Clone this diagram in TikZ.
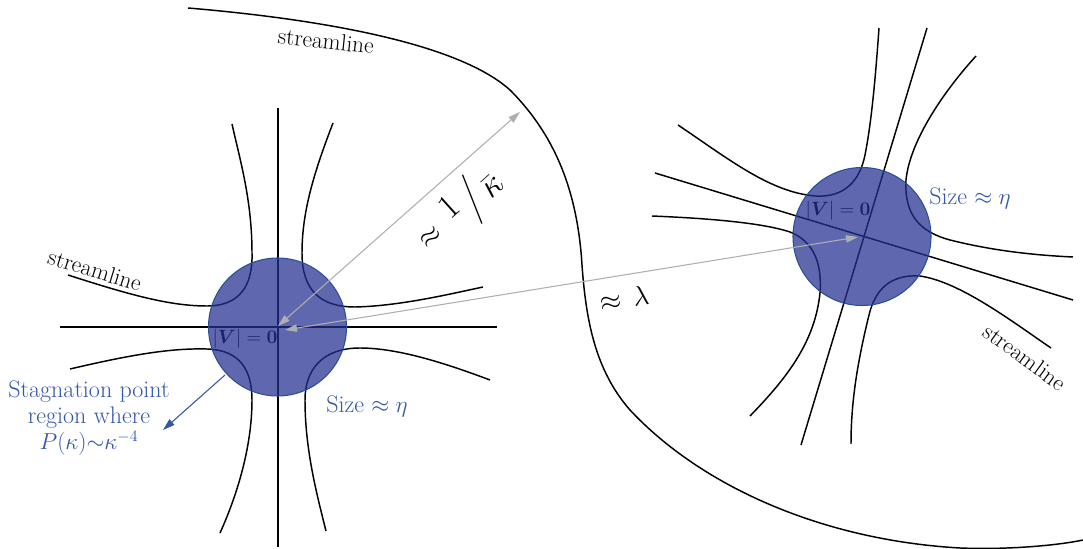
\documentclass[tikz,border=0pt]{standalone}
\usepackage{amsmath,bm,graphicx}
\usetikzlibrary{arrows.meta}
\definecolor{txtblue}{RGB}{52,86,166}
\definecolor{discfill}{RGB}{36,47,144}
\definecolor{discedge}{RGB}{40,80,150}
\definecolor{arrgray}{RGB}{175,175,175}
\tikzset{
  sline/.style={line width=1.1pt, black},
  axisline/.style={line width=1.5pt, black},
  disc/.style={circle, minimum size=103.5pt, inner sep=0pt, fill=discfill, fill opacity=0.73, draw=discedge, line width=0.8pt},
  grayarrow/.style={draw=arrgray, line width=0.8pt, {Triangle[length=9pt,width=5.5pt]}-{Triangle[length=9pt,width=5.5pt]}},
  bluearrow/.style={draw=txtblue, line width=0.8pt, -{Triangle[length=9pt,width=5.5pt]}},
  slabel/.style={font=\fontsize{17.5}{20}\selectfont, inner sep=0pt},
  bluelabel/.style={font=\fontsize{18}{19.5}\selectfont, text=txtblue, inner sep=0pt, align=center},
  zerolabel/.style={font=\fontsize{14.5}{17}\selectfont, inner sep=0pt, text=black},
}
\begin{document}
\begin{tikzpicture}[x=0.75pt, y=-0.75pt]
\useasboundingbox (0,0) rectangle (1083,549);

% big streamline
\draw[sline] (188,8) .. controls (330,20) and (460,45) .. (510,90) .. controls (560,140) and (578,200) .. (582,265) .. controls (586,320) and (595,370) .. (630,410) .. controls (700,485) and (820,540) .. (960,548) .. controls (1010,550) and (1060,545) .. (1083,540);

% left cluster
\draw[axisline] (60,327) -- (497,327);
\draw[axisline] (278,108) -- (278,547);
\draw[sline] (68,275) .. controls (130,295) and (170,306) .. (207,306) .. controls (240,306) and (253,285) .. (252,253) .. controls (252,200) and (240,160) .. (232,124);
\draw[sline] (333,123) .. controls (315,170) and (302,210) .. (302,253) .. controls (302,290) and (320,307) .. (355,307) .. controls (400,306) and (450,294) .. (483,287);
\draw[sline] (70,369) .. controls (130,355) and (170,348) .. (207,349) .. controls (240,350) and (252,370) .. (252,400) .. controls (252,450) and (235,500) .. (220,533);
\draw[sline] (490,380) .. controls (450,365) and (400,348) .. (360,348) .. controls (322,348) and (305,370) .. (305,400) .. controls (305,450) and (317,495) .. (326,531);

% right cluster
\draw[sline] (927,28) -- (801,445);
\draw[sline] (655,173) -- (1073,300);
\draw[sline] (678,125) .. controls (730,160) and (770,192) .. (815,196) .. controls (845,198) and (860,180) .. (865,155) .. controls (872,120) and (876,70) .. (879,28);
\draw[sline] (976,56) .. controls (945,90) and (910,140) .. (906,180) .. controls (904,215) and (920,232) .. (950,240) .. controls (990,250) and (1030,255) .. (1073,257);
\draw[sline] (652,216) .. controls (700,218) and (760,222) .. (790,232) .. controls (815,242) and (822,265) .. (820,293) .. controls (815,340) and (790,375) .. (750,416);
\draw[sline] (1051,348) .. controls (1010,320) and (960,282) .. (920,276) .. controls (890,274) and (875,290) .. (869,315) .. controls (858,360) and (851,400) .. (851,444);

% |V|=0 labels (under the discs)
\node[zerolabel] (vzl) at (245,339) {$|\bm{V}| = \mathbf{0}$};
\node[zerolabel] (vzr) at (838,211) {$|\bm{V}| = \mathbf{0}$};

% discs
\node[disc] (dl) at (277.5,327) {};
\node[disc] (dr) at (862,236.5) {};

% gray arrows
\coordinate (cl) at (278,326);
\coordinate (cl2) at (285,330);
\coordinate (cr) at (858,237);
\coordinate (kt) at (520,112);
\draw[grayarrow] (cl) -- (kt);
\draw[grayarrow] (cl2) -- (cr);

% math labels
\node[inner sep=0pt, rotate=42, font=\fontsize{20}{24}\selectfont] (kap) at (460,211) {$\approx\;\raisebox{0.55ex}{\scalebox{1.25}{$1$}}\mkern2mu\Big/\mkern2mu\raisebox{-0.45ex}{\scalebox{1.25}{$\bar{\kappa}$}}$};
\node[inner sep=0pt, rotate=9, font=\fontsize{20}{24}\selectfont] (lam) at (624,298) {$\approx\,\lambda$};

% streamline labels
\node[slabel, rotate=-6] (st1) at (326,41) {streamline};
\node[slabel, rotate=-17] (st2) at (95,270) {streamline};
\node[slabel, rotate=-36] (st3) at (1025,357) {streamline};

% size labels
\node[bluelabel] (szl) at (367,406) {Size $\approx\eta$};
\node[bluelabel] (szr) at (970,198) {Size $\approx\eta$};

% stagnation label
\node[bluelabel] (stag) at (89,418) {Stagnation point\\region where\\$P(\kappa){\sim}\kappa^{-4}$};
\coordinate (bs) at (225,375);
\coordinate (be) at (163,430);
\draw[bluearrow] (bs) -- (be);
\end{tikzpicture}
\end{document}
